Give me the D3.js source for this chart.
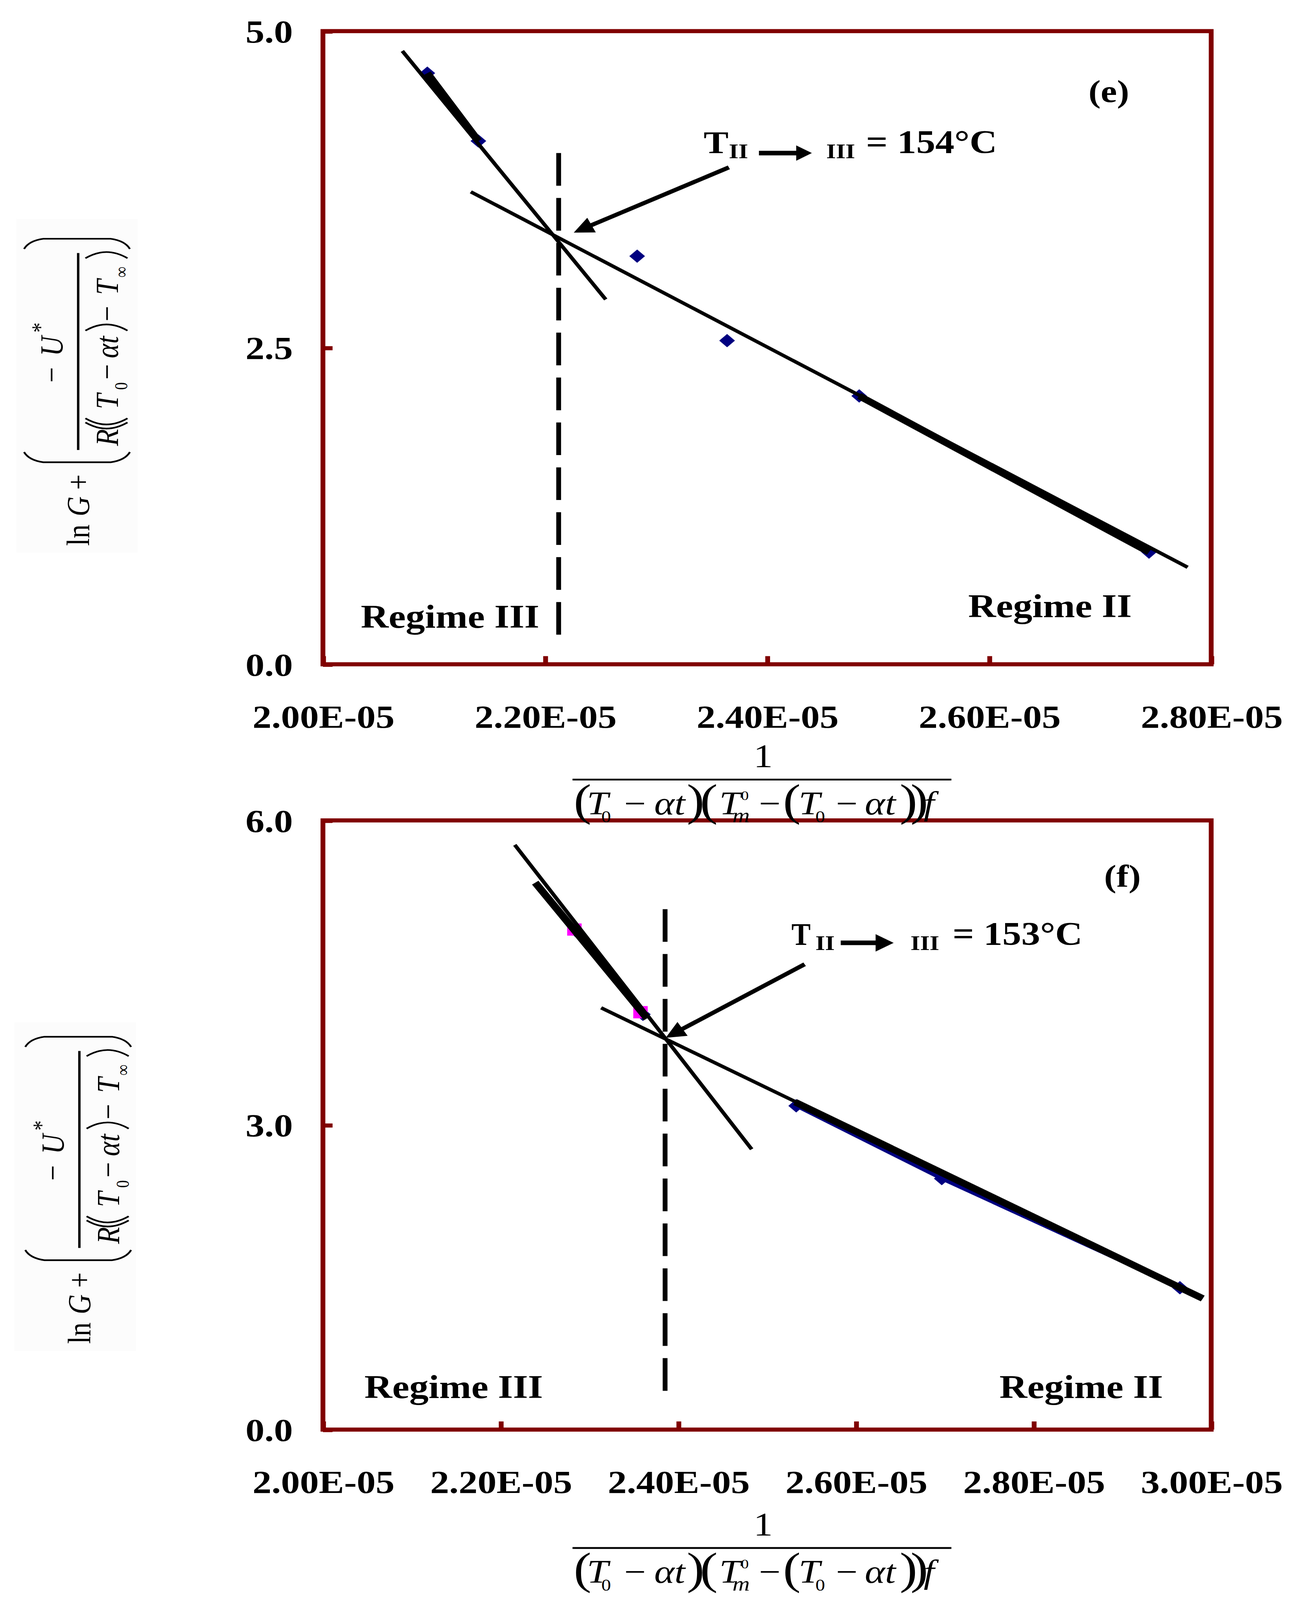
<!DOCTYPE html>
<html>
<head>
<meta charset="utf-8">
<script src="https://cdn.jsdelivr.net/npm/d3@7"></script>
<style>
  html, body { margin: 0; padding: 0; background: #fff; overflow: hidden; }
  svg { display: block; }
</style>
</head>
<body>
<svg id="chart"></svg>
<script>
// ---- data: panel (e) ----
const eXTicks = [2.0e-5, 2.2e-5, 2.4e-5, 2.6e-5, 2.8e-5];
const eXTickLabels = ["2.00E-05", "2.20E-05", "2.40E-05", "2.60E-05", "2.80E-05"];
const eYTicks = [0, 2.5, 5];
const eYTickLabels = ["0.0", "2.5", "5.0"];
const eX = [2.094e-5, 2.140e-5, 2.283e-5, 2.364e-5, 2.483e-5, 2.744e-5];
const eY = [4.668, 4.132, 3.223, 2.556, 2.119, 0.886];
const eFitIII = [[2.0715e-5, 4.843], [2.2547e-5, 2.881]];
const eFitII = [[2.1332e-5, 3.731], [2.7788e-5, 0.766]];
const eTransX = 2.2123e-5;
const eTransY = [4.037, 0.185];
const eArrow = [[2.3656e-5, 3.924], [2.2259e-5, 3.409]];

// ---- data: panel (f) ----
const fXTicks = [2.0e-5, 2.2e-5, 2.4e-5, 2.6e-5, 2.8e-5, 3.0e-5];
const fXTickLabels = ["2.00E-05", "2.20E-05", "2.40E-05", "2.60E-05", "2.80E-05", "3.00E-05"];
const fYTicks = [0, 3, 6];
const fYTickLabels = ["0.0", "3.0", "6.0"];
const fX = [2.2857e-5, 2.3602e-5, 2.5328e-5, 2.6967e-5, 2.9648e-5];
const fY = [4.905, 4.090, 3.189, 2.472, 1.397];
const fXIII = [2.2831e-5, 2.3575e-5];
const fYIII = [4.925, 4.111];
const fFitIII = [[2.216e-5, 5.759], [2.4827e-5, 2.761]];
const fFitIIIb = [[2.239e-5, 5.387], [2.3649e-5, 4.050]];
const fFitII = [[2.3132e-5, 4.154], [2.9905e-5, 1.291]];
const fFitIIb = [[2.5315e-5, 3.226], [2.9905e-5, 1.291]];
const fTransX = 2.3852e-5;
const fTransY = [5.126, 0.332];
const fArrow = [[2.5423e-5, 4.583], [2.3859e-5, 3.859]];

// ---- page setup (drawn in a 1085x1568 space, stretched to the window) ----
const W = 1085, H = 1568;
const FONT = "'Liberation Serif','Times New Roman',serif";
const FRAME = "#800000", NAVY = "#000080", PINK = "#ff00ff";
const LEFT = 268.5, RIGHT = 1007;

const svg = d3.select("#chart")
    .attr("width", window.innerWidth || 3342)
    .attr("height", window.innerHeight || 4836)
    .attr("viewBox", `0 0 ${W} ${H}`)
    .attr("preserveAspectRatio", "none");

function arrow(g, x1, y1, x2, y2, len, half, w) {
    const dx = x2 - x1, dy = y2 - y1, L = Math.hypot(dx, dy);
    const ux = dx / L, uy = dy / L;
    const bx = x2 - ux * len, by = y2 - uy * len;
    g.append("line")
        .attr("x1", x1).attr("y1", y1).attr("x2", bx + ux * 2).attr("y2", by + uy * 2)
        .attr("stroke", "#000").attr("stroke-width", w);
    g.append("path")
        .attr("d", `M${x2},${y2}L${bx - uy * half},${by + ux * half}L${bx + uy * half},${by - ux * half}Z`)
        .attr("fill", "#000");
}

function label(g, t, x, y, size, opts = {}) {
    return g.append("text")
        .attr("x", x).attr("y", y)
        .attr("font-family", FONT)
        .attr("font-size", size)
        .attr("font-weight", opts.bold ? "bold" : "normal")
        .attr("font-style", opts.it ? "italic" : "normal")
        .attr("text-anchor", opts.anchor || "start")
        .text(t);
}

function drawPanel(p) {
    const x = d3.scaleLinear().domain(p.xDomain).range([LEFT, RIGHT]);
    const y = d3.scaleLinear().domain(p.yDomain).range([p.bottom, p.top]);
    const g = svg.append("g");
    const line = d3.line().x(d => x(d[0])).y(d => y(d[1]));

    // x axis
    const xa = g.append("g")
        .attr("transform", `translate(0,${p.bottom})`)
        .call(d3.axisBottom(x).tickValues(p.xTicks)
            .tickFormat((d, i) => p.xTickLabels[i])
            .tickSizeInner(-8).tickSizeOuter(0));
    xa.select(".domain").remove();
    xa.selectAll("line").attr("stroke", FRAME).attr("stroke-width", 4);
    xa.selectAll("text")
        .attr("y", 62).attr("dy", null).attr("fill", "#000")
        .attr("font-family", FONT).attr("font-weight", "bold").attr("font-size", 31.5);

    // y axis
    const ya = g.append("g")
        .attr("transform", `translate(${LEFT},0)`)
        .call(d3.axisLeft(y).tickValues(p.yTicks)
            .tickFormat((d, i) => p.yTickLabels[i])
            .tickSizeInner(-8).tickSizeOuter(0));
    ya.select(".domain").remove();
    ya.selectAll("line").attr("stroke", FRAME).attr("stroke-width", 4);
    ya.selectAll("text")
        .attr("x", -25).attr("dy", "0.34em").attr("fill", "#000")
        .attr("font-family", FONT).attr("font-weight", "bold").attr("font-size", 31.5);

    // frame
    g.append("rect")
        .attr("x", LEFT).attr("y", p.top)
        .attr("width", RIGHT - LEFT).attr("height", p.bottom - p.top)
        .attr("fill", "none").attr("stroke", FRAME).attr("stroke-width", 4);

    // series line under markers
    if (p.seriesLine) {
        g.append("path").attr("d", line(p.seriesLine))
            .attr("fill", "none").attr("stroke", NAVY).attr("stroke-width", 3.5);
    }

    // navy diamonds
    g.selectAll(".dia").data(p.xs.map((v, i) => [v, p.ys[i]])).enter()
        .append("path")
        .attr("d", d3.symbol(d3.symbolSquare, 85))
        .attr("transform", d => `translate(${x(d[0])},${y(d[1])}) rotate(45)`)
        .attr("fill", NAVY);

    // magenta squares
    if (p.sqX) {
        g.selectAll(".sq").data(p.sqX.map((v, i) => [v, p.sqY[i]])).enter()
            .append("path")
            .attr("d", d3.symbol(d3.symbolSquare, 144))
            .attr("transform", d => `translate(${x(d[0])},${y(d[1])})`)
            .attr("fill", PINK);
    }

    // fitted lines
    p.fits.forEach(f => {
        g.append("path").attr("d", line(f))
            .attr("fill", "none").attr("stroke", "#000").attr("stroke-width", 3.3);
    });
    p.thick.forEach(f => {
        g.append("path").attr("d", line(f))
            .attr("fill", "none").attr("stroke", "#000").attr("stroke-width", 6.5);
    });

    // transition line
    g.append("line")
        .attr("x1", x(p.transX)).attr("x2", x(p.transX))
        .attr("y1", y(p.transY[0])).attr("y2", y(p.transY[1]))
        .attr("stroke", "#000").attr("stroke-width", 4)
        .attr("stroke-dasharray", "32 12");

    // pointer arrow
    arrow(g, x(p.arrow[0][0]), y(p.arrow[0][1]), x(p.arrow[1][0]), y(p.arrow[1][1]), 16.5, 8, 4);

    // annotation T_II -> III
    const a = p.ann;
    const tT = label(g, "T", a.tx, a.base, 31, { bold: true });
    if (a.tLen) tT.attr("textLength", a.tLen).attr("lengthAdjust", "spacingAndGlyphs");
    label(g, "II", a.iix, a.base + 5, 20.5, { bold: true });
    arrow(g, a.ax1, a.ay, a.ax2, a.ay, a.ahl, a.ahh, 4.5);
    label(g, "III", a.iiix, a.base + 5, 20.5, { bold: true });
    label(g, a.value, a.vx, a.base, 32, { bold: true })
        .attr("textLength", a.vLen).attr("lengthAdjust", "spacingAndGlyphs");

    label(g, p.tag, p.tagX, p.tagY, 30.5, { bold: true });
    label(g, "Regime III", p.r3[0], p.r3[1], 32, { bold: true });
    label(g, "Regime II", p.r2[0], p.r2[1], 32, { bold: true });
}

// x-axis formula: 1 / ((T0 - at)(Tm0 - (T0 - at))f)
const denomPieces = [
    { t: "(", x: 477, k: "big" }, { t: "T", x: 488, it: 1 }, { t: "0", x: 500, k: "sub" },
    { t: "\u2212", x: 519 }, { t: "\u03b1t", x: 544, it: 1 }, { t: ")", x: 571, k: "big" },
    { t: "(", x: 582, k: "big" }, { t: "T", x: 598, it: 1 }, { t: "m", x: 609, k: "subm", it: 1 },
    { t: "0", x: 616, k: "sup" }, { t: "\u2212", x: 631 }, { t: "(", x: 651, k: "big" },
    { t: "T", x: 664, it: 1 }, { t: "0", x: 678, k: "sub" }, { t: "\u2212", x: 695 },
    { t: "\u03b1t", x: 719, it: 1 }, { t: ")", x: 748, k: "big" }, { t: ")", x: 757, k: "big" },
    { t: "f", x: 768, it: 1 }
];

function drawXLabel(dy) {
    const g = svg.append("g").attr("transform", `translate(0,${dy})`);
    label(g, "1", 634.5, 752, 32, { anchor: "middle" });
    g.append("line").attr("x1", 476).attr("x2", 791).attr("y1", 764).attr("y2", 764)
        .attr("stroke", "#000").attr("stroke-width", 1.8);
    denomPieces.forEach(d => {
        let size = 32, base = 798;
        if (d.k === "big") { size = 44; base = 799; }
        if (d.k === "sub") { size = 16; base = 806; }
        if (d.k === "subm") { size = 20; base = 806; }
        if (d.k === "sup") { size = 13; base = 784; }
        label(g, d.t, d.x, base, size, { it: d.it });
    });
}

// y-axis formula, laid out along the rotated baseline
const yPieces = [
    { t: "ln", x: 0, y: 74, s: 27 }, { t: "G", x: 29, y: 74, s: 27, it: 1 }, { t: "+", x: 55, y: 74, s: 27 },
    { t: "\u2212", x: 160, y: 52, s: 27 }, { t: "U", x: 186, y: 52, s: 27, it: 1 }, { t: "*", x: 209, y: 40, s: 20 },
    { t: "R", x: 98, y: 98, s: 27, it: 1 }, { t: "T", x: 134, y: 98, s: 27, it: 1 }, { t: "0", x: 153, y: 106, s: 15 },
    { t: "\u2212", x: 163, y: 98, s: 27 }, { t: "\u03b1t", x: 184, y: 98, s: 27, it: 1 },
    { t: "\u2212", x: 220, y: 98, s: 27 }, { t: "T", x: 246, y: 98, s: 27, it: 1 }, { t: "\u221e", x: 263, y: 106, s: 15 }
];
const yParens = [
    "M92,20 Q84,24 82,36 L82,92 Q84,104 92,108",
    "M291,20 Q299,24 301,36 L301,92 Q299,104 291,108",
    "M121,71 Q115,80 115,88.5 Q115,97 121,106",
    "M125,71 Q119,80 119,88.5 Q119,97 125,106",
    "M211,71 Q217,80 217,88.5 Q217,97 211,106",
    "M282,71 Q288,80 288,88.5 Q288,97 282,106"
];

function drawYLabel(bottom, dx, box) {
    svg.append("rect").attr("x", box[0]).attr("y", box[1])
        .attr("width", box[2]).attr("height", box[3]).attr("fill", "#fcfcfc");
    const g = svg.append("g").attr("transform", `translate(${dx},${bottom}) rotate(-90)`);
    yPieces.forEach(d => label(g, d.t, d.x, d.y, d.s, { it: d.it }));
    yParens.forEach(d => g.append("path").attr("d", d)
        .attr("fill", "none").attr("stroke", "#000").attr("stroke-width", 1.6));
    g.append("line").attr("x1", 94).attr("x2", 287).attr("y1", 65).attr("y2", 65)
        .attr("stroke", "#000").attr("stroke-width", 2);
}

drawYLabel(535, 0, [13.5, 214.5, 101, 327]);
drawYLabel(1317, 1, [12, 1002, 101, 322]);

drawPanel({
    top: 30.5, bottom: 651, xDomain: [2.0e-5, 2.8e-5], yDomain: [0, 5],
    xTicks: eXTicks, xTickLabels: eXTickLabels, yTicks: eYTicks, yTickLabels: eYTickLabels,
    xs: eX, ys: eY,
    fits: [eFitIII, eFitII],
    thick: [[[eX[0], eY[0]], [eX[1], eY[1]]], [[eX[4], eY[4]], [eX[5], eY[5]]]],
    transX: eTransX, transY: eTransY, arrow: eArrow,
    ann: { tx: 585, base: 150, iix: 606, ax1: 631, ax2: 675, ay: 150, ahl: 13, ahh: 7.5,
           iiix: 687, vx: 720, value: "= 154\u00b0C", vLen: 109 },
    tag: "(e)", tagX: 905, tagY: 100,
    r3: [300, 615], r2: [805, 605]
});

drawPanel({
    top: 804, bottom: 1401, xDomain: [2.0e-5, 3.0e-5], yDomain: [0, 6],
    xTicks: fXTicks, xTickLabels: fXTickLabels, yTicks: fYTicks, yTickLabels: fYTickLabels,
    xs: fX, ys: fY, sqX: fXIII, sqY: fYIII,
    seriesLine: fX.slice(2).map((v, i) => [v, fY[i + 2]]),
    fits: [fFitIII, fFitII],
    thick: [fFitIIIb, fFitIIb],
    transX: fTransX, transY: fTransY, arrow: fArrow,
    ann: { tx: 658, tLen: 16, base: 926, iix: 678, ax1: 699, ax2: 743, ay: 924, ahl: 15, ahh: 8.5,
           iiix: 757, vx: 792, value: "= 153\u00b0C", vLen: 108 },
    tag: "(f)", tagX: 918, tagY: 869,
    r3: [303, 1370], r2: [831, 1370]
});

drawXLabel(0);
drawXLabel(753);
</script>
</body>
</html>
